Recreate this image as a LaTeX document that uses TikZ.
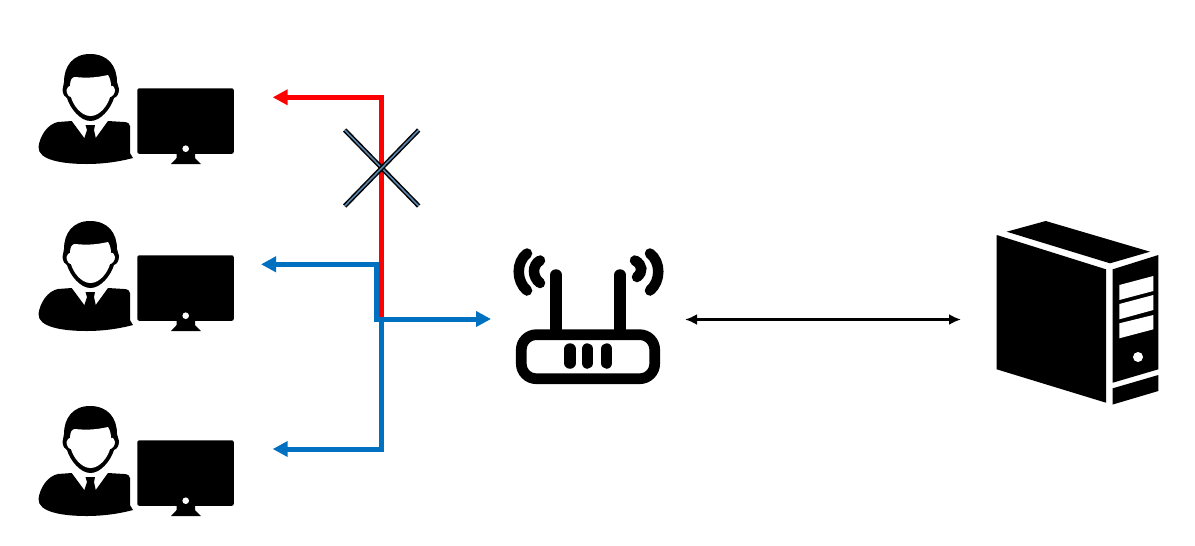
\documentclass[tikz,border=0pt]{standalone}
\usetikzlibrary{arrows.meta}
\definecolor{linkblue}{HTML}{0070C0}
\definecolor{crossblue}{HTML}{5B86AD}
\tikzset{
  icon/.style={black,fill=black},
  hole/.style={white,fill=white},
  linkred/.style={red,line width=.05cm,-{Triangle[length=.15cm,width=.15cm]}},
  linkb/.style={linkblue,line width=.05cm,-{Triangle[length=.15cm,width=.15cm]}},
  crossbar/.style={black,line width=.015cm,double=crossblue,double distance=.016cm},
  antenna/.style={black,line width=.115cm,line cap=round}
}
\begin{document}
\begin{tikzpicture}[x=.01cm,y=-.01cm]
            \useasboundingbox (0,0) rectangle (1195,545);
            % three users, each with a monitor
            \foreach \dy in {0,167,352}{
            \begin{scope}[yshift=-\dy*.01cm]
            \fill[icon] (90,54) .. controls (73,54) and (64,66) .. (64,82) -- (62.5,90) .. controls (63,95) and (65,97) .. (67,98) .. controls (70,108) and (80,121) .. (90.5,121) .. controls (101,121) and (111,108) .. (114,98) .. controls (117,97) and (119,94) .. (119,89) -- (117,82) .. controls (117,66) and (108,54) .. (90,54);
            \fill[hole] (66.5,90) .. controls (67,87) and (69,86) .. (70,86) .. controls (70,80) and (72,77) .. (75,77) .. controls (85,78) and (95,78) .. (108,75) .. controls (110,78) and (111,82) .. (111,86) .. controls (113,85) and (115,88) .. (115,90) .. controls (115,94) and (112,97) .. (110,97) .. controls (108,105) and (100,116) .. (90.5,116) .. controls (81,116) and (73,105) .. (71,97) .. controls (69,97) and (66.5,94) .. (66.5,90);
            \fill[icon] (38.5,147) .. controls (40,135) and (48,124) .. (58,122) -- (71.7,121) -- (85,139) -- (90,146) -- (95,139) -- (108,121) -- (124,122) .. controls (128,122) and (130,124) .. (130,126) -- (130,153) -- (133,158) .. controls (118,162) and (102,164) .. (87,164) .. controls (62,164) and (38,160) .. (38.5,147);
            \fill[icon] (85.5,125) -- (95,125) -- (94,130) -- (96,139) -- (90,147) -- (84,139) -- (87,130) -- cycle;
            \fill[icon,rounded corners=.02cm] (137.3,88.3) rectangle (233.8,153.8);
            \fill[icon] (176.7,152) -- (195,152) -- (195,158) -- (201,164) -- (171,164) -- (176.7,158) -- cycle;
            \fill[hole] (185.7,148.7) circle (3.3);
            \end{scope}
            }
            % router
            \draw[black,line width=.107cm,rounded corners=.15cm] (521.3,334.7) rectangle (654.7,378.7);
            \draw[antenna] (556,275) -- (556,332);
            \draw[antenna] (620,275) -- (620,332);
            \draw[antenna] (570,349) -- (570,363);
            \draw[antenna] (587.3,349) -- (587.3,363);
            \draw[antenna] (606.7,349) -- (606.7,363);
            \draw[antenna,line width=.105cm] (527,253.5) .. controls (516,262) and (516,281) .. (527,290.5);
            \draw[antenna,line width=.105cm] (540,260.5) .. controls (532,265) and (532,277) .. (540,283);
            \draw[antenna,line width=.105cm] (650,253.5) .. controls (661,262) and (661,281) .. (650,290.5);
            \draw[antenna,line width=.105cm] (635,260.5) .. controls (643,265) and (643,272) .. (637,277);
            % server
            \fill[icon] (996.7,235) -- (1106,269.3) -- (1106,402.7) -- (996.7,369.3) -- cycle;
            \fill[icon] (1006.7,231.7) -- (1045.7,221) -- (1150,251.7) -- (1110,263.3) -- cycle;
            \fill[icon] (1112.7,269.3) -- (1158.3,255) -- (1158.3,369.3) -- (1112.7,382.7) -- cycle;
            \fill[icon] (1112.7,388.3) -- (1158.3,375) -- (1158.3,391) -- (1112.7,404.5) -- cycle;
            \fill[hole] (1119.3,285) -- (1153.3,276) -- (1153.3,291) -- (1119.3,300) -- cycle;
            \fill[hole] (1119.3,304) -- (1153.3,295) -- (1153.3,310) -- (1119.3,319.3) -- cycle;
            \fill[hole] (1119.3,323.3) -- (1153.3,315) -- (1153.3,329.3) -- (1119.3,338.3) -- cycle;
            \fill[hole] (1138,357) circle (5);
            % connectors
            \coordinate (hub) at (381.7,319);
            \coordinate (hubleft) at (376,319);
            \coordinate (usera) at (272.7,97.3);
            \coordinate (userb) at (261,264.3);
            \coordinate (userc) at (272.7,449);
            \coordinate (routerin) at (491,319);
            \coordinate (routerport) at (685,319.5);
            \coordinate (serverport) at (961,319.5);
            \coordinate (crossa) at (344.7,130);
            \coordinate (crossb) at (418.7,206);
            \coordinate (crossc) at (418.7,130);
            \coordinate (crossd) at (344.7,206);
            \draw[linkred] (hub) |- (usera);
            \draw[linkb] (hub) |- (userc);
            \draw[linkb,{Triangle[length=.15cm,width=.15cm]}-{Triangle[length=.15cm,width=.15cm]}] (userb) -| (hubleft) -- (routerin);
            \draw[crossbar] (crossa) -- (crossb);
            \draw[crossbar] (crossc) -- (crossd);
            \draw[black,line width=.025cm,{Latex[length=.12cm,width=.11cm]}-{Latex[length=.12cm,width=.11cm]}] (routerport) -- (serverport);
        \end{tikzpicture}
\end{document}
